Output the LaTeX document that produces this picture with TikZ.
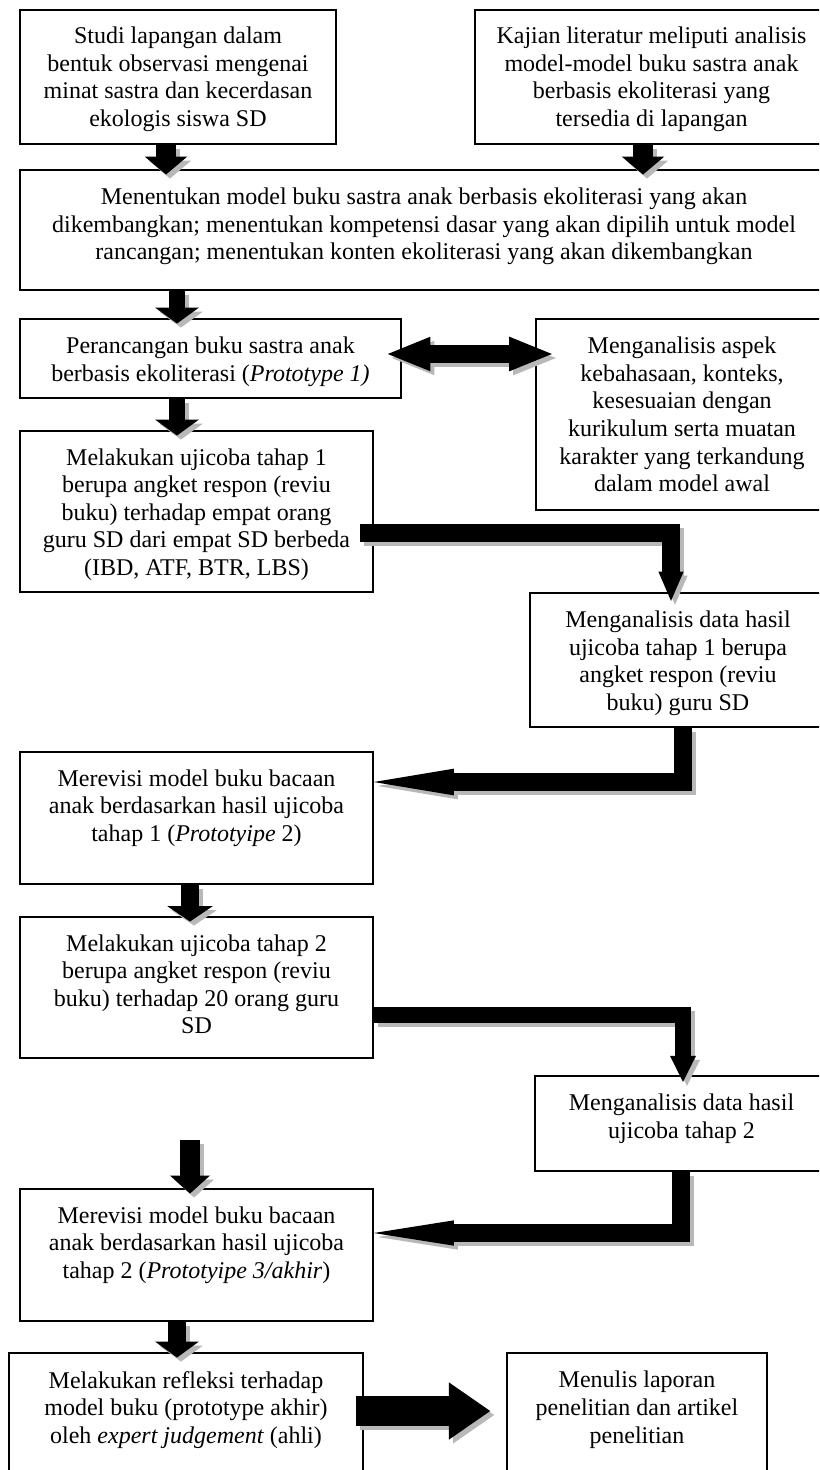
\documentclass[tikz,border=0pt]{standalone}
\usepackage{fontspec}
\setmainfont{Liberation Serif}
\usetikzlibrary{arrows.meta,fit}
\newcommand\blockarr[2]{\draw[#1,shd] #2; \draw[#1] #2;}
\begin{document}
\begin{tikzpicture}[x=0.75pt,y=-0.75pt,
  box/.style={draw, line width=1.2pt, inner sep=0pt},
  txt/.style={align=center, anchor=north, inner sep=0pt, font=\fontsize{18}{20.7}\selectfont},
  shd/.style={draw=black!28, transform canvas={xshift=3pt,yshift=-3pt}},
  blk/.style={draw=black, line join=miter, line cap=butt},
  dn/.style={blk, line width=12pt, -{Triangle[width=33pt,length=12pt,line width=0pt]}, shorten >=-4pt},
]
\useasboundingbox (0,0) rectangle (819,1470);
\fill[white] (0,0) rectangle (819,1470);
\clip (0,0) rectangle (819,1470);

% columns / rows
\coordinate (c1) at (166,0);
\coordinate (c2) at (643,0);
\coordinate (cL) at (177,0);
\coordinate (cM) at (190,0);
\coordinate (cR1) at (671,0);
\coordinate (cR2) at (683,0);
\coordinate (cR3) at (683,0);
\coordinate (cR4) at (681,0);
\coordinate (r1) at (0,533);
\coordinate (r2) at (0,782);
\coordinate (r3) at (0,1015);
\coordinate (r4) at (0,1233);
\coordinate (rd) at (0,354);
\coordinate (rb) at (0,1411);
\coordinate (lone) at (190,1140);

% boxes
\node[box, fit={(20,10)(336,144)}] (b1) {};
\node[box, fit={(475,10)(828,144)}] (b2) {};
\node[box, fit={(20,170)(828,290)}] (b3) {};
\node[box, fit={(20,319)(401,398)}] (b4) {};
\node[box, fit={(536,319)(828,510)}] (b5) {};
\node[box, fit={(20,431)(373,592)}] (b6) {};
\node[box, fit={(530,593)(826,727)}] (b7) {};
\node[box, fit={(20,752)(373,884)}] (b8) {};
\node[box, fit={(20,917)(373,1058)}] (b9) {};
\node[box, fit={(535,1076)(828,1171)}] (b10) {};
\node[box, fit={(20,1189)(373,1321)}] (b11) {};
\node[box, fit={(9,1353)(363,1490)}] (b12) {};
\node[box, fit={(507,1353)(767,1490)}] (b13) {};

% texts
\node[txt] (t1) at ([yshift=-13pt]b1.north) {Studi lapangan dalam\\bentuk observasi mengenai\\minat sastra dan kecerdasan\\ekologis siswa SD};
\node[txt] (t2) at ([yshift=-13pt]b2.north) {Kajian literatur meliputi analisis\\model-model buku sastra anak\\berbasis ekoliterasi yang\\tersedia di lapangan};
\node[txt] (t3) at ([yshift=-14pt]b3.north) {Menentukan model buku sastra anak berbasis ekoliterasi yang akan\\dikembangkan; menentukan kompetensi dasar yang akan dipilih untuk model\\rancangan; menentukan konten ekoliterasi yang akan dikembangkan};
\node[txt] (t4) at ([yshift=-14pt]b4.north) {Perancangan buku sastra anak\\berbasis ekoliterasi (\textit{Prototype 1)}};
\node[txt] (t5) at ([yshift=-14pt]b5.north) {Menganalisis aspek\\kebahasaan, konteks,\\kesesuaian dengan\\kurikulum serta muatan\\karakter yang terkandung\\dalam model awal};
\node[txt] (t6) at ([yshift=-13.5pt]b6.north) {Melakukan ujicoba tahap 1\\berupa angket respon (reviu\\buku) terhadap empat orang\\guru SD dari empat SD berbeda\\(IBD, ATF, BTR, LBS)};
\node[txt] (t7) at ([yshift=-14pt]b7.north) {Menganalisis data hasil\\ujicoba tahap 1 berupa\\angket respon (reviu\\buku) guru SD};
\node[txt] (t8) at ([yshift=-13.5pt]b8.north) {Merevisi model buku bacaan\\anak berdasarkan hasil ujicoba\\tahap 1 (\textit{Prototyipe} 2)};
\node[txt] (t9) at ([yshift=-13.5pt]b9.north) {Melakukan ujicoba tahap 2\\berupa angket respon (reviu\\buku) terhadap 20 orang guru\\SD};
\node[txt] (t10) at ([yshift=-14pt]b10.north) {Menganalisis data hasil\\ujicoba tahap 2};
\node[txt] (t11) at ([yshift=-13.5pt]b11.north) {Merevisi model buku bacaan\\anak berdasarkan hasil ujicoba\\tahap 2 (\textit{Prototyipe 3/akhir})};
\node[txt] (t12) at ([yshift=-14pt]b12.north) {Melakukan refleksi terhadap\\model buku (prototype akhir)\\oleh \textit{expert judgement} (ahli)};
\node[txt] (t13) at ([yshift=-14pt]b13.north) {Menulis laporan\\penelitian dan artikel\\penelitian};

% vertical block arrows
\blockarr{dn, line width=15pt, -{Triangle[width=32pt,length=13.5pt,line width=0pt]}}{(b1.south -| c1) -- (b3.north -| c1)}
\blockarr{dn, line width=15pt, -{Triangle[width=32pt,length=13.5pt,line width=0pt]}}{(b2.south -| c2) -- (b3.north -| c2)}
\blockarr{dn}{(b3.south -| cL) -- (b4.north -| cL)}
\blockarr{dn}{(b4.south -| cL) -- (b6.north -| cL)}
\blockarr{dn, line width=13pt, -{Triangle[width=34pt,length=11.5pt,line width=0pt]}}{(b8.south -| cM) -- (b9.north -| cM)}
\blockarr{dn, line width=15pt, -{Triangle[width=30pt,length=13.5pt,line width=0pt]}}{(lone) -- (b11.north -| cM)}
\blockarr{dn, line width=13.5pt}{(b11.south -| cL) -- (b12.north -| cL)}

% elbow block arrows
\blockarr{blk, line width=13pt, -{Triangle[width=19pt,length=22pt,line width=0pt]}, shorten <=-10pt, shorten >=-6.5pt}{(b6.east |- r1) -| (b7.north -| cR1)}
\blockarr{blk, line width=14pt, -{Triangle[width=20pt,length=60pt,line width=0pt]}}{(b7.south -| cR2) |- (b8.east |- r2)}
\blockarr{blk, line width=12.5pt, -{Triangle[width=19.5pt,length=19.5pt,line width=0pt]}, shorten >=-5pt}{(b9.east |- r3) -| (b10.north -| cR3)}
\blockarr{blk, line width=14pt, -{Triangle[width=19pt,length=60pt,line width=0pt]}}{(b10.south -| cR4) |- (b11.east |- r4)}

% double arrow
\blockarr{blk, line width=13.5pt, {Triangle[width=26pt,length=32pt,line width=0pt]}-{Triangle[width=26pt,length=32pt,line width=0pt]}, shorten <=-10.5pt, shorten >=-12.5pt}{(b4.east |- rd) -- (b5.west |- rd)}

% big right arrow
\blockarr{blk, line width=22pt, -{Triangle[width=43pt,length=31pt,line width=0pt]}, shorten <=-6pt, shorten >=12pt}{(b12.east |- rb) -- (b13.west |- rb)}
\end{tikzpicture}
\end{document}
